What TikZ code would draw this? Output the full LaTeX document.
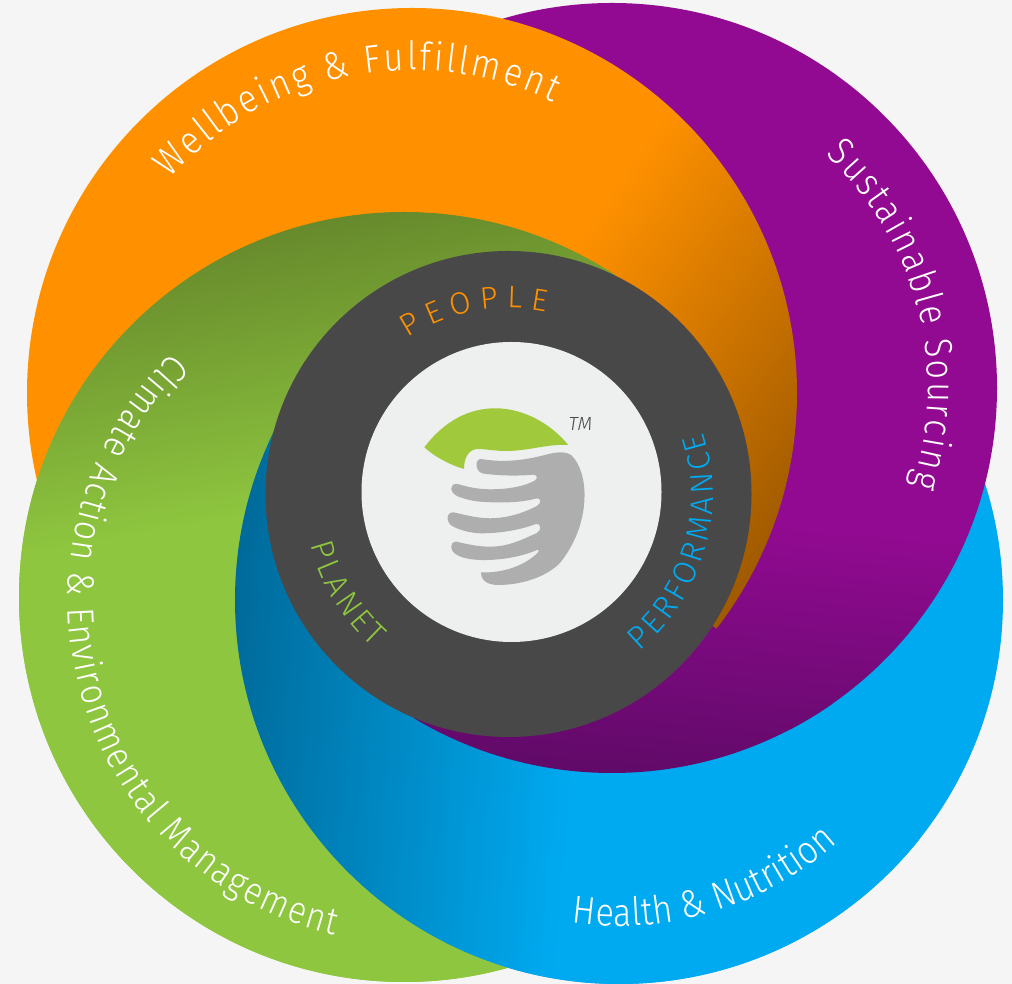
\documentclass[tikz,border=0pt]{standalone}
\usepackage{fontspec}
\setmainfont{Fira Sans}
\newfontfamily\lf[UprightFont=* Light,ItalicFont=* Light Italic]{Fira Sans}
\newfontfamily\nf[UprightFont=* Light,FakeStretch=0.88]{Fira Sans}
\usetikzlibrary{decorations.text}
\definecolor{paper}{HTML}{F5F5F5}
\definecolor{org}{HTML}{FF9100}
\definecolor{orgd}{HTML}{A05A00}
\definecolor{pur}{HTML}{910A91}
\definecolor{purd}{HTML}{600A68}
\definecolor{blu}{HTML}{00AAF0}
\definecolor{blud}{HTML}{006A9A}
\definecolor{grn}{HTML}{8EC63F}
\definecolor{grnd}{HTML}{678A2C}
\definecolor{hub}{HTML}{484848}
\definecolor{core}{HTML}{EEF0EF}
\definecolor{leaf}{HTML}{A0C93C}
\definecolor{hand}{HTML}{AEAEAE}
\pgfdeclarehorizontalshading{sorg}{100bp}{color(0bp)=(org);color(53bp)=(org);color(75bp)=(orgd);color(100bp)=(orgd)}
\pgfdeclarehorizontalshading{spur}{100bp}{color(0bp)=(pur);color(58bp)=(pur);color(75bp)=(purd);color(100bp)=(purd)}
\pgfdeclarehorizontalshading{sblu}{100bp}{color(0bp)=(blu);color(52bp)=(blu);color(75bp)=(blud);color(100bp)=(blud)}
\pgfdeclarehorizontalshading{sgrn}{100bp}{color(0bp)=(grn);color(57bp)=(grn);color(75bp)=(grnd);color(100bp)=(grnd)}
\newcommand\discO{\shade[shading=sorg,shading angle=-35] (412,591) circle[radius=385];}
\newcommand\discP{\shade[shading=spur,shading angle=-95] (612,596) circle[radius=385];}
\newcommand\discB{\shade[shading=sblu,shading angle=175] (619,384) circle[radius=384];}
\newcommand\discG{\shade[shading=sgrn,shading angle=100] (404,387) circle[radius=385];}
\newcommand\swirlpart[3]{\begin{scope}\clip (509,490) -- ++(#1:1500) arc[start angle=#1,end angle=#2,radius=1500] -- cycle; #3\end{scope}}
\tikzset{
  arctext/.style n args={3}{postaction={decorate},decoration={text along path,text align={fit to path},
    text={|\nf\fontsize{#1}{#1}\selectfont\color{#2}|#3}}},
  hubtext/.style n args={3}{postaction={decorate},decoration={text along path,text align={fit to path},
    text={|\lf\fontsize{#1}{#1}\selectfont\color{#2}|#3}}},
}
\begin{document}
\begin{tikzpicture}[x=1pt,y=1pt,line width=0pt]
\useasboundingbox (0,0) rectangle (1012,984);
\fill[paper] (0,0) rectangle (1012,984);
% base stack: orange on top, then patches that close the cyclic overlap
\discG\discB\discP\discO
\swirlpart{64}{320}{\discG}
\swirlpart{165}{320}{\discB}
\swirlpart{247}{327}{\discP}
% hub
\fill[hub] (508.5,490) circle[radius=243];
\fill[core] (511.5,492) circle[radius=150];
% outer labels
\path[arctext={39}{white}{Wellbeing {\&} Fulfillment}] (412,591) ++(138.5:323) arc[start angle=138.5,end angle=64.2,radius=323];
\path[arctext={39}{white}{Sustainable Sourcing}] (612,596) ++(47.5:316) arc[start angle=47.5,end angle=-18,radius=316];
\path[arctext={39}{white}{Health {\&} Nutrition}] (619,384) ++(261.7:326) arc[start angle=261.7,end angle=312,radius=326];
\path[arctext={38}{white}{Climate Action {\&} Environmental Management}] (412,384) ++(134:344) arc[start angle=134,end angle=257,radius=344];
% hub labels
\path[hubtext={31}{org}{PEOPLE}] (509,490) ++(123:186) arc[start angle=123,end angle=78.6,radius=186];
\path[hubtext={32}{blu}{PERFORMANCE}] (509,490) ++(-50.3:204) arc[start angle=-50.3,end angle=17.5,radius=204];
\path[hubtext={32}{grn}{PLANET}] (509,490) ++(194.3:205) arc[start angle=194.3,end angle=228.5,radius=205];
% logo
\begin{scope}[y=-1pt,shift={(0pt,984pt)}]
\fill[leaf] (424.3,447.3) .. controls (445,420) and (470,408.3) .. (495,408.3)
  .. controls (525,408.3) and (552,425) .. (568.3,445)
  .. controls (545,444) and (530,451) .. (505,451)
  .. controls (495,451) and (485,449) .. (478,449)
  .. controls (470,449) and (464,456) .. (464,469)
  .. controls (450,465) and (435,457) .. (424.3,447.3) -- cycle;
\fill[hand] (481,459) .. controls (505,463) and (525,460) .. (545,455)
  .. controls (555,452) and (565,451) .. (571,455)
  .. controls (580,463) and (585,480) .. (584.5,497)
  .. controls (584,525) and (572,548) .. (560,563)
  .. controls (545,578) and (520,585) .. (498,585)
  .. controls (490,585) and (481,582) .. (481,572.5)
  .. controls (505,573) and (525,565) .. (537.5,553)
  .. controls (540,550) and (538,549) .. (536,550.5)
  .. controls (520,557) and (500,560.5) .. (480,560)
  .. controls (470,559.5) and (462,558) .. (457,555)
  .. controls (449,551) and (450,541) .. (456,541.5)
  .. controls (466,544) and (478,546.7) .. (490,546.7)
  .. controls (510,546.7) and (525,538) .. (537,533)
  .. controls (542,530) and (541,523) .. (536,524)
  .. controls (520,530) and (500,533.5) .. (480,533.3)
  .. controls (470,533) and (460,530) .. (454,527)
  .. controls (445,523) and (446,512) .. (453.5,512.3)
  .. controls (465,515) and (478,518.3) .. (490,518.3)
  .. controls (510,518) and (525,512) .. (537,506)
  .. controls (542,503) and (541,497) .. (536,498.5)
  .. controls (520,503) and (500,503) .. (480,501.7)
  .. controls (472,501) and (465,499) .. (458.5,496.7)
  .. controls (449,493) and (449,483) .. (457.5,484)
  .. controls (468,487) and (478,489.3) .. (490,489.3)
  .. controls (510,489.3) and (525,486) .. (535,480.5)
  .. controls (538,478) and (537,474.5) .. (533,474.7)
  .. controls (520,476) and (500,476) .. (483,473.5)
  .. controls (475,472) and (474.5,459) .. (481,459) -- cycle;
\end{scope}
\node[font=\lf\itshape\fontsize{19}{19}\selectfont,text=hub,inner sep=0pt] (tm) at (580.5,560) {TM};
\end{tikzpicture}
\end{document}
